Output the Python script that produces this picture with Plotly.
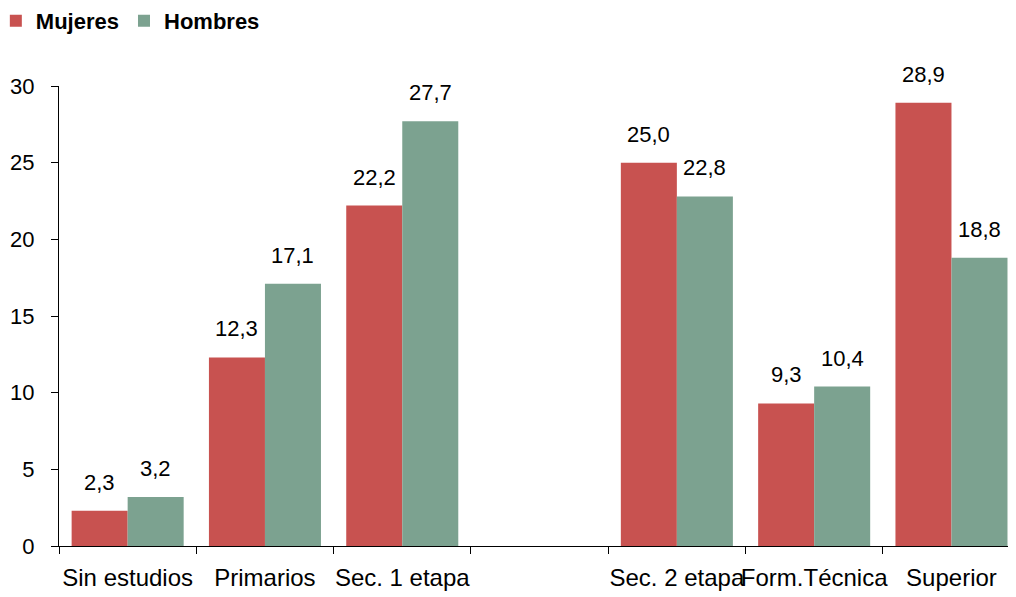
import plotly.graph_objects as go

categories = ["Sin estudios", "Primarios", "Sec. 1 etapa", " ", "Sec. 2 etapa", "Form.Técnica", "Superior"]
mujeres = [2.3, 12.3, 22.2, None, 25.0, 9.3, 28.9]
hombres = [3.2, 17.1, 27.7, None, 22.8, 10.4, 18.8]
y_ticks = [0, 5, 10, 15, 20, 25, 30]

RED = "#C85250"
GREEN = "#7CA290"
FONT = "Liberation Sans, Arial, sans-serif"

fig = go.Figure()
fig.add_trace(go.Bar(name="Mujeres", x=categories, y=mujeres, marker=dict(color=RED, line=dict(width=0))))
fig.add_trace(go.Bar(name="Hombres", x=categories, y=hombres, marker=dict(color=GREEN, line=dict(width=0))))

def fmt(v):
    return f"{v:.1f}".replace(".", ",")

bar_w = (1 - 0.184) / 2
annotations = []
for i, (m, h) in enumerate(zip(mujeres, hombres)):
    for v, off in ((m, -bar_w / 2), (h, bar_w / 2)):
        if v is None:
            continue
        annotations.append(dict(x=i + off, y=v, xref="x", yref="y", text=fmt(v),
                                showarrow=False, yanchor="bottom", yshift=14,
                                font=dict(family=FONT, size=22, color="#000")))

# page body has an 8px margin, so the figure is offset by 8px
fig.update_layout(
    width=1008, height=589,
    margin=dict(l=51, r=0, t=78, b=51, autoexpand=False),
    paper_bgcolor="white", plot_bgcolor="white",
    barmode="group", bargap=0.184, bargroupgap=0,
    separators=",.",
    font=dict(family=FONT, size=22, color="#000"),
    annotations=annotations,
    legend=dict(orientation="h", xref="paper", yref="paper", x=-0.066, y=1.187,
                xanchor="left", yanchor="top",
                font=dict(family=FONT, size=22, color="#000", weight="bold"),
                itemwidth=30, tracegroupgap=0, bgcolor="rgba(0,0,0,0)"),
    xaxis=dict(type="category", categoryorder="array", categoryarray=categories,
               range=[-0.5, 6.47], showline=True, linecolor="#000", linewidth=1.3,
               ticks="outside", tickson="boundaries", ticklen=7, tickcolor="#000",
               tickwidth=1.3, showgrid=False, zeroline=False, automargin=False,
               tickangle=0, tickfont=dict(family=FONT, size=24), ticklabelstandoff=10),
    yaxis=dict(range=[0, 30], tickvals=y_ticks, showline=True, linecolor="#000",
               linewidth=1.3, ticks="outside", ticklen=7, tickcolor="#000", tickwidth=1.3,
               showgrid=False, zeroline=False, automargin=False,
               tickfont=dict(family=FONT, size=22), ticklabelstandoff=12),
)

fig.write_html("out.html")
